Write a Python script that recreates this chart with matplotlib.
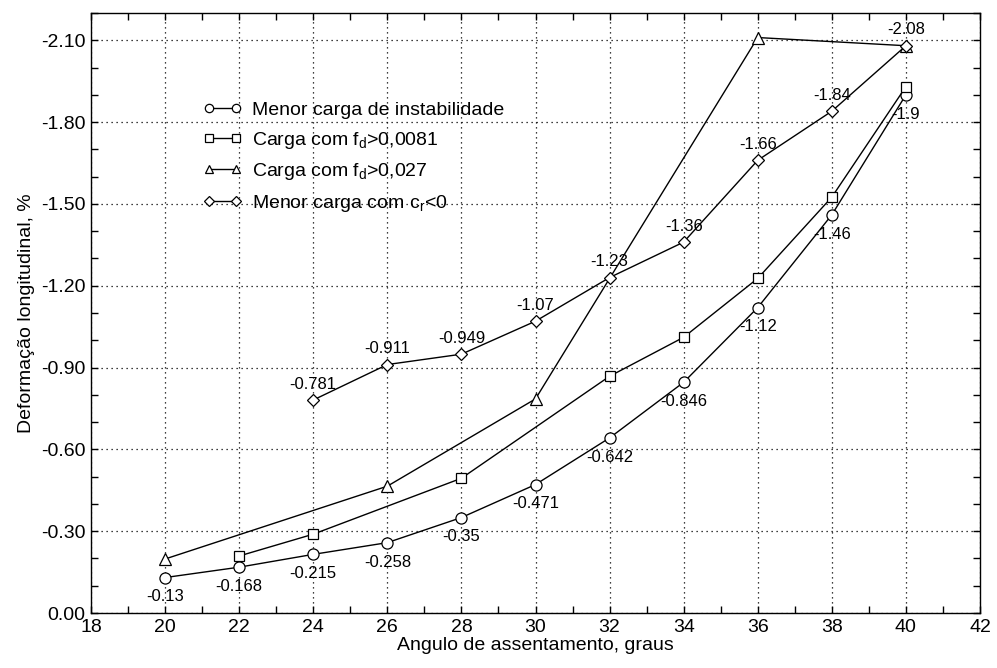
import numpy as np
import matplotlib
matplotlib.use("Agg")
import matplotlib.pyplot as plt
from matplotlib.ticker import MultipleLocator, FormatStrFormatter

plt.rcParams['font.family'] = ['Liberation Sans', 'DejaVu Sans']
plt.rcParams['mathtext.fontset'] = 'custom'
plt.rcParams['mathtext.rm'] = 'Liberation Sans'
plt.rcParams['mathtext.it'] = 'Liberation Sans:italic'

# Data
x_circle = [20, 22, 24, 26, 28, 30, 32, 34, 36, 38, 40]
y_circle = [-0.13, -0.168, -0.215, -0.258, -0.35, -0.471, -0.642, -0.846, -1.12, -1.46, -1.9]

x_square = [22, 24, 28, 32, 34, 36, 38, 40]
y_square = [-0.209, -0.289, -0.494, -0.868, -1.011, -1.227, -1.525, -1.93]

x_triangle = [20, 26, 30, 36, 40]
y_triangle = [-0.198, -0.465, -0.785, -2.11, -2.08]

x_diamond = [24, 26, 28, 30, 32, 34, 36, 38, 40]
y_diamond = [-0.781, -0.911, -0.949, -1.07, -1.23, -1.36, -1.66, -1.84, -2.08]

labels = ['Menor carga de instabilidade',
          r'Carga com f$_{\mathrm{d}}$>0,0081',
          r'Carga com f$_{\mathrm{d}}$>0,027',
          r'Menor carga com c$_{\mathrm{r}}$<0']

fig = plt.figure(figsize=(9.97, 6.68), dpi=100)
ax = fig.add_axes([91/997, 55/668, 889/997, 600/668])

common = dict(color='black', lw=1.0, markerfacecolor='white', markeredgecolor='black',
              markeredgewidth=0.9, markersize=8)
ax.plot(x_circle, y_circle, marker='o', label=labels[0], **common)
ax.plot(x_square, y_square, marker='s', label=labels[1], **{**common, 'markersize': 7.5})
ax.plot(x_triangle, y_triangle, marker='^', label=labels[2], **common)
ax.plot(x_diamond, y_diamond, marker='D', label=labels[3], **{**common, 'markersize': 6.5})

for xv, yv in zip(x_circle, y_circle):
    ax.annotate('%g' % yv, (xv, yv), xytext=(0, -14), textcoords='offset points',
                ha='center', va='center', fontsize=12)
for xv, yv in zip(x_diamond, y_diamond):
    ax.annotate('%g' % yv, (xv, yv), xytext=(0, 11.5), textcoords='offset points',
                ha='center', va='center', fontsize=12)

ax.set_xlim(18, 42)
ax.set_ylim(0, -2.2)
ax.xaxis.set_major_locator(MultipleLocator(2))
ax.xaxis.set_minor_locator(MultipleLocator(1))
ax.set_yticks(np.arange(0, -2.11, -0.3))
ax.yaxis.set_minor_locator(MultipleLocator(0.1))
ax.yaxis.set_major_formatter(FormatStrFormatter('%.2f'))
ax.tick_params(which='both', direction='in', top=True, right=True, length=5, width=1,
               labelsize=14, pad=4)
ax.grid(True, which='major', linestyle=(0, (1, 3)), color='black', lw=0.9)
for s in ax.spines.values():
    s.set_linewidth(1.0)

ax.set_xlabel('Angulo de assentamento, graus', fontsize=14, labelpad=1)
ax.set_ylabel('Deformação longitudinal, %', fontsize=14, labelpad=4)

leg = ax.legend(loc='upper left', bbox_to_anchor=(0.126, 0.853), frameon=False,
                fontsize=14, numpoints=2, handlelength=2.0, handletextpad=0.5,
                markerscale=0.75, borderpad=0, borderaxespad=0, labelspacing=0.55)

fig.savefig('out.png', dpi=100)
